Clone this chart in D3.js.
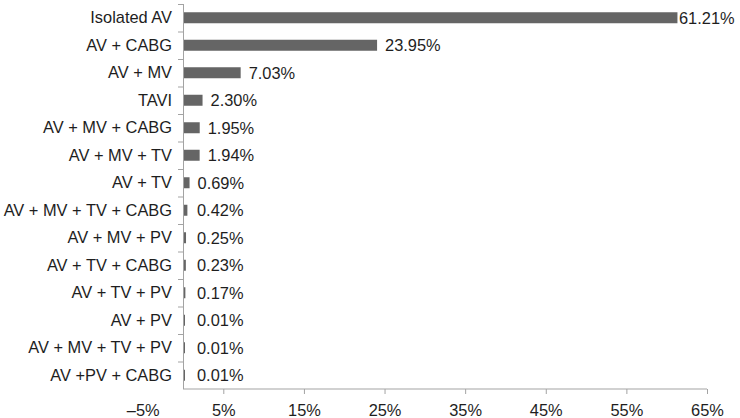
<!DOCTYPE html>
<html>
<head>
<meta charset="utf-8">
<script src="https://cdn.jsdelivr.net/npm/d3@7"></script>
<style>
  body { margin: 0; background: #fff; }
  svg { display: block; font-family: "Liberation Sans", Arial, sans-serif; }
</style>
</head>
<body>
<div id="chart"></div>
<script>
const categories = [
    "Isolated AV", "AV + CABG", "AV + MV", "TAVI", "AV + MV + CABG",
    "AV + MV + TV", "AV + TV", "AV + MV + TV + CABG", "AV + MV + PV",
    "AV + TV + CABG", "AV + TV + PV", "AV + PV", "AV + MV + TV + PV", "AV +PV + CABG"
];
const values = [61.21, 23.95, 7.03, 2.30, 1.95, 1.94, 0.69, 0.42, 0.25, 0.23, 0.17, 0.01, 0.01, 0.01];
const xTicks = [-5, 5, 15, 25, 35, 45, 55, 65];

const width = 740, height = 418;
const margin = { top: 4, right: 33, bottom: 29, left: 183 };

const data = categories.map((c, i) => ({ name: c, value: values[i] }));

const svg = d3.select("#chart").append("svg")
    .attr("width", width)
    .attr("height", height);

// 0 sits on the left axis line; -5% only gets a label
const x = d3.scaleLinear()
    .domain([0, 65])
    .range([margin.left, width - margin.right]);

const y = d3.scaleBand()
    .domain(categories)
    .range([margin.top, height - margin.bottom])
    .paddingInner(0.6)
    .paddingOuter(0.3);

const axisColor = "#a3a3a3";
const textColor = "#1e1e1e";
const fontSize = "16.4px";
const yBottom = height - margin.bottom;

// x axis
const xAxis = svg.append("g")
    .attr("transform", `translate(0,${yBottom})`)
    .call(d3.axisBottom(x).tickValues(xTicks).tickSize(5).tickPadding(10)
        .tickFormat(d => (d < 0 ? "\u2013" + Math.abs(d) : d) + "%"));
xAxis.select(".domain").remove();
xAxis.selectAll(".tick line").attr("stroke", axisColor)
    .attr("display", d => d < 0 ? "none" : null);
xAxis.selectAll(".tick text")
    .attr("fill", textColor)
    .style("font-size", fontSize);
xAxis.append("line")
    .attr("x1", x(0)).attr("x2", x(65))
    .attr("stroke", axisColor);

// y axis
const yAxis = svg.append("g")
    .attr("transform", `translate(${x(0)},0)`)
    .call(d3.axisLeft(y).tickSize(0).tickPadding(11));
yAxis.select(".domain").remove();
yAxis.selectAll(".tick text")
    .attr("fill", textColor)
    .style("font-size", fontSize);

const step = y.step();
const bounds = d3.range(categories.length + 1).map(i => margin.top + i * step);
svg.append("g").selectAll("line")
    .data(bounds.slice(0, -1))
    .join("line")
    .attr("x1", x(0) - 5).attr("x2", x(0))
    .attr("y1", d => d + 0.5).attr("y2", d => d + 0.5)
    .attr("stroke", axisColor);
svg.append("line")
    .attr("x1", x(0) + 0.5).attr("x2", x(0) + 0.5)
    .attr("y1", margin.top).attr("y2", yBottom)
    .attr("stroke", axisColor);

// bars
svg.append("g").selectAll("rect")
    .data(data)
    .join("rect")
    .attr("x", x(0) + 1)
    .attr("y", d => y(d.name))
    .attr("width", d => Math.max(1, x(d.value) - x(0)))
    .attr("height", y.bandwidth())
    .attr("fill", "#656565");

// value labels
svg.append("g").selectAll("text")
    .data(data)
    .join("text")
    .attr("x", d => Math.min(x(d.value) + Math.max(9, 14 - (x(d.value) - x(0))), width - 61))
    .attr("y", d => y(d.name) + y.bandwidth() / 2)
    .attr("dy", "0.36em")
    .attr("fill", textColor)
    .style("font-size", fontSize)
    .text(d => d.value.toFixed(2) + "%");
</script>
</body>
</html>
